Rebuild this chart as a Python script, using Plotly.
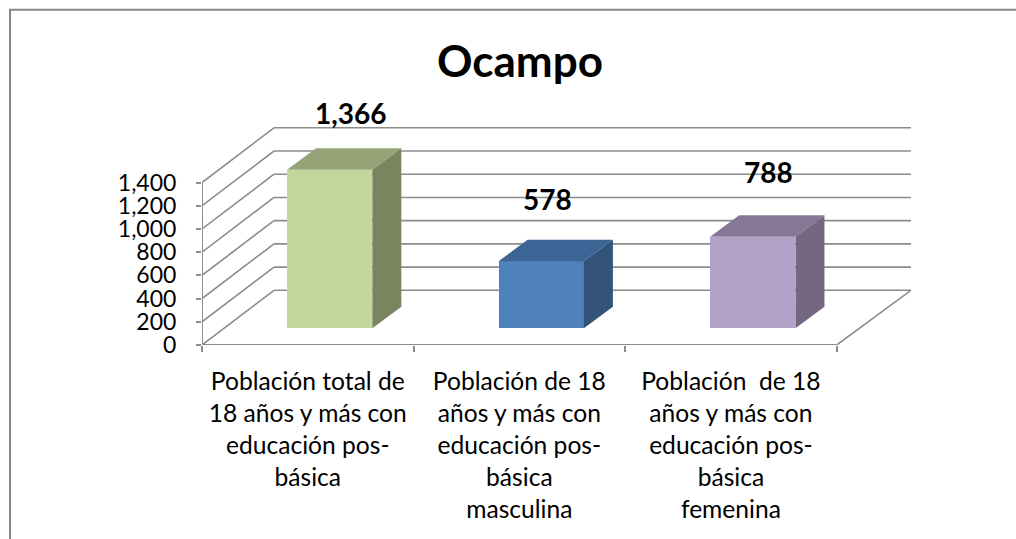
import plotly.graph_objects as go

title = "Ocampo"
categories = [
    "Población total de<br>18 años y más con<br>educación pos-<br>básica",
    "Población de 18<br>años y más con<br>educación pos-<br>básica<br>masculina",
    "Población  de 18<br>años y más con<br>educación pos-<br>básica<br>femenina",
]
values = [1366, 578, 788]
value_labels = ["1,366", "578", "788"]
y_ticks = [0, 200, 400, 600, 800, 1000, 1200, 1400]
front_colors = ["#C3D69B", "#4F81BD", "#B2A2C7"]
top_colors = ["#95A376", "#3C6494", "#877796"]
side_colors = ["#7A855D", "#335378", "#746780"]

FONT = "Lato, Carlito, Calibri, sans-serif"
GRID = "#8C8C8C"

# pixel layout
W, H = 1016, 539
L, R, T, B = 202, 105, 100, 194
plot_w, plot_h = W - L - R, H - T - B
px_per_val = 162.5 / 1400
depth_px_y = 54.7
x_max = 3 * (plot_w / (plot_w - 74.3))
px_per_x = plot_w / x_max
y_max = plot_h / px_per_val
dx = 72 / px_per_x              # side wall depth in axis units
dy = depth_px_y / px_per_val
bar_w = 85.3 / px_per_x
bar_dx, bar_dy = 29 / px_per_x, 21.5 / px_per_val   # bar depth
base = 16.7 / px_per_val

shapes = []
for t in y_ticks:
    # side wall and back wall gridlines
    shapes.append(dict(type="line", x0=0, y0=t, x1=dx, y1=t + dy, layer="below",
                       line=dict(color=GRID, width=1.6)))
    shapes.append(dict(type="line", x0=dx, y0=t + dy, x1=x_max, y1=t + dy, layer="below",
                       line=dict(color=GRID, width=1.6)))
# floor front, right edge, and value axis
shapes += [
    dict(type="line", x0=0, y0=0, x1=3, y1=0, layer="below", line=dict(color=GRID, width=2)),
    dict(type="line", x0=3, y0=0, x1=x_max, y1=dy, layer="below", line=dict(color=GRID, width=1.6)),
    dict(type="line", x0=0, y0=0, x1=0, y1=y_ticks[-1], layer="below", line=dict(color=GRID, width=2)),
    # chart frame: only its top and left edges are inside the picture
    dict(type="rect", xref="paper", yref="paper", x0=(10 - L) / plot_w, x1=(W + 20 - L) / plot_w,
         y0=-1, y1=(H - B - 9.7) / plot_h, layer="below", line=dict(color="#868686", width=2)),
]

centers = [i + 0.6035 for i in range(3)]

fig = go.Figure()
fig.add_trace(go.Bar(x=centers, y=values, base=[base] * 3, width=[bar_w] * 3,
                     marker=dict(color=front_colors, line=dict(width=0)),
                     showlegend=False, hoverinfo="skip"))

for c, v, tc, sc in zip(centers, values, top_colors, side_colors):
    x0, x1 = c - bar_w / 2, c + bar_w / 2
    y0, y1 = base, base + v
    fig.add_trace(go.Scatter(
        x=[x0, x1, x1 + bar_dx, x0 + bar_dx, x0],
        y=[y1, y1, y1 + bar_dy, y1 + bar_dy, y1],
        fill="toself", fillcolor=tc, mode="lines", line=dict(width=0),
        showlegend=False, hoverinfo="skip"))
    fig.add_trace(go.Scatter(
        x=[x1, x1 + bar_dx, x1 + bar_dx, x1, x1],
        y=[y0, y0 + bar_dy, y1 + bar_dy, y1, y0],
        fill="toself", fillcolor=sc, mode="lines", line=dict(width=0),
        showlegend=False, hoverinfo="skip"))

# data labels
shifts = [(21, 57), (6.5, 62), (15.5, 65)]
annotations = []
for c, v, lab, (sx, sy) in zip(centers, values, value_labels, shifts):
    annotations.append(dict(x=c, y=base + v, text=f"<b>{lab}</b>", showarrow=False,
                            xshift=sx, yshift=sy, font=dict(family=FONT, size=28, color="#000000")))

fig.update_layout(
    width=W, height=H, autosize=False,
    margin=dict(l=L, r=R, t=T, b=B),
    paper_bgcolor="#FFFFFF", plot_bgcolor="rgba(0,0,0,0)",
    bargap=0, showlegend=False,
    title=dict(text=f"<b>{title}</b>", x=520 / W, xanchor="center", y=1 - 62 / H, yanchor="middle",
               font=dict(family=FONT, size=44, color="#000000")),
    xaxis=dict(range=[0, x_max], tickvals=[0.5, 1.5, 2.5], ticktext=categories,
               ticks="", showgrid=False, zeroline=False, showline=False, ticklabelstandoff=19,
               tickangle=0,
               minor=dict(tickvals=[0, 1, 2, 3], ticks="outside", ticklen=6, tickwidth=1.5,
                          tickcolor=GRID, showgrid=False),
               tickfont=dict(family=FONT, size=24.6, color="#000000")),
    yaxis=dict(range=[0, y_max], tickvals=y_ticks, tickformat=",", ticks="outside", ticklen=5,
               tickwidth=1.5, tickcolor=GRID, showgrid=False, zeroline=False, showline=False,
               ticklabelstandoff=15,
               tickfont=dict(family=FONT, size=23, color="#000000")),
    shapes=shapes, annotations=annotations,
)

fig.write_html("out.html", post_script="document.body.style.margin='0';",
               config=dict(displayModeBar=False))
